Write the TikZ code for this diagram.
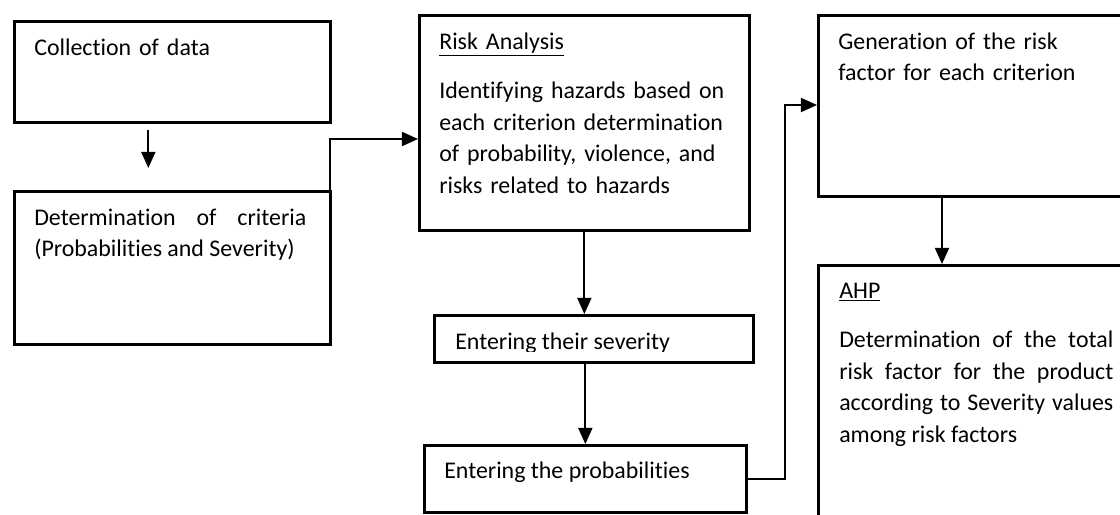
\documentclass[tikz,border=0pt]{standalone}
\usepackage{fontspec}
\setmainfont{Carlito}[Ligatures=NoCommon]
\usetikzlibrary{positioning,arrows.meta}

\begin{document}
\begin{tikzpicture}[
    font=\fontsize{17}{22.4}\selectfont,
    >={Triangle[length=11.5pt,width=10pt]},
    stage/.style={draw, line width=1.9pt, anchor=north west, inner sep=0pt},
    note/.style={anchor=base west, inner sep=0pt, align=left},
    flow/.style={->, line width=1.4pt}
]
\useasboundingbox (0,0) rectangle (28,-12.875);
\clip (0,0) rectangle (28,-12.875);

% Kasten
\node[stage, minimum width=7.9cm, minimum height=2.525cm] (data) at (0.325,-0.5) {};
\node[stage, minimum width=7.9cm, minimum height=3.825cm] (crit) at (0.325,-4.75) {};
\node[stage, minimum width=8.25cm, minimum height=5.375cm] (risk) at (10.45,-0.35) {};
\node[stage, minimum width=7.975cm, minimum height=1.175cm] (sev) at (10.825,-7.85) {};
\node[stage, minimum width=8.05cm, minimum height=1.675cm] (prob) at (10.575,-11.1) {};
\node[stage, minimum width=8.5cm, minimum height=4.525cm] (gen) at (20.425,-0.35) {};
\node[stage, minimum width=8.5cm, minimum height=7.5cm] (ahp) at (20.425,-6.6) {};

% Texte
\node[note, text width=7cm] (data-txt) at ([shift={(0.525,-0.875)}]data.north west) {Collection of data};
\node[note, align=justify, text width=6.8cm] (crit-txt) at ([shift={(0.525,-0.875)}]crit.north west)
    {Determination of criteria\linebreak (Probabilities and Severity)};
\node[note, text width=7.6cm] (risk-txt) at ([shift={(0.525,-0.875)}]risk.north west)
    {\underline{Risk Analysis}\\[13pt]
     Identifying hazards based on\\
     each criterion determination\\
     of probability, violence, and\\
     risks related to hazards};
\begin{scope}
\clip (sev.north west) rectangle ([yshift=0.3cm]sev.south east);
\node[note] (sev-txt) at ([shift={(0.55,-0.875)}]sev.north west) {Entering their severity};
\end{scope}
\node[note] (prob-txt) at ([shift={(0.525,-0.85)}]prob.north west) {Entering the probabilities};
\node[note, text width=7.5cm] (gen-txt) at ([shift={(0.525,-0.875)}]gen.north west)
    {Generation of the risk\\ factor for each criterion};
\node[note, align=justify, text width=6.85cm] (ahp-txt) at ([shift={(0.55,-0.85)}]ahp.north west)
    {\underline{AHP}\\[13pt]
     Determination of the total\linebreak
     risk factor for the product\linebreak
     according to Severity values\linebreak
     among risk factors};

% Pfeile
\draw[flow, shorten <=0.15cm, shorten >=0.55cm] ([xshift=-0.6cm]data.south) -- ([xshift=-0.6cm]crit.north);
\draw[flow] ([shift={(-0.05,-1.175)}]crit.north east) |- ([yshift=-3.125cm]risk.north west);
\draw[flow] (risk.south) -- (risk.south |- sev.north);
\draw[flow] (sev.south -| prob.north) -- (prob.north);
\draw[flow] (prob.east) -- ++(0.925,0) |- ([yshift=-2.275cm]gen.north west);
\draw[flow] ([xshift=3.125cm]gen.south west) -- ([xshift=3.125cm]ahp.north west);

\end{tikzpicture}
\end{document}
